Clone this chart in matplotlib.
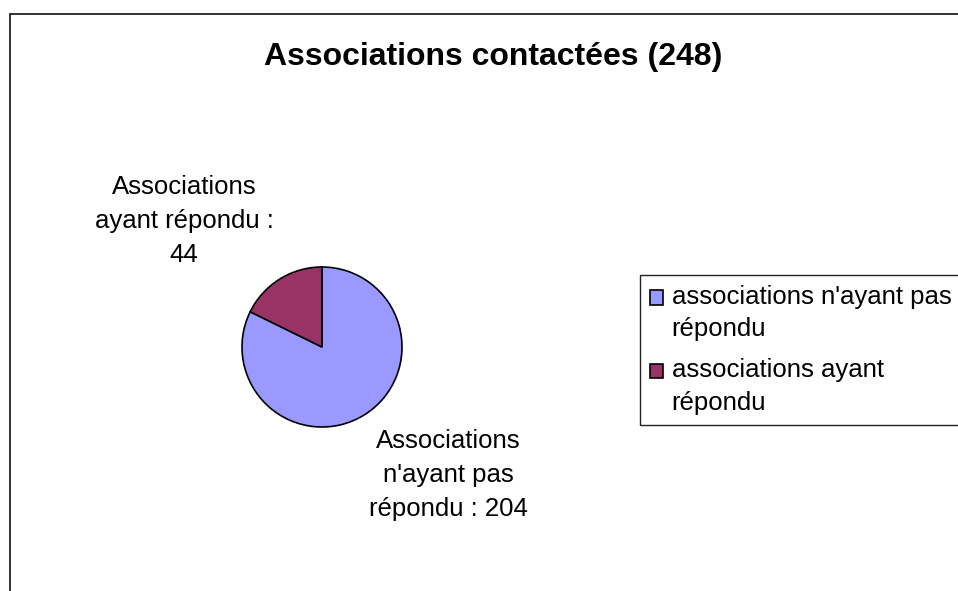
import matplotlib
matplotlib.use('Agg')
import matplotlib.pyplot as plt
from matplotlib.patches import Rectangle
from matplotlib.legend_handler import HandlerPatch

plt.rcParams['font.family'] = ['Liberation Sans', 'DejaVu Sans']

# data
title = 'Associations contactées (248)'
categories = ["associations n'ayant pas\nrépondu", 'associations ayant\nrépondu']
values = [204, 44]
slice_labels = ["Associations\nn'ayant pas\nrépondu : 204", 'Associations\nayant répondu :\n44']
colors = ['#9999FF', '#993366']

W, H = 958, 591
fig = plt.figure(figsize=(W / 100, H / 100), dpi=100)

# chart area border (only left and top edges visible)
fig.patches.append(Rectangle((10 / W, -0.2), 1.5, (H - 14) / H + 0.2,
                             transform=fig.transFigure, fill=False,
                             edgecolor='#222222', linewidth=1.3))

fig.text(493 / W, 1 - 57 / H, title, ha='center', va='center',
         fontsize=23, fontweight='bold')

# pie: centre (322, 347), radius 80 px
cx, cy, r = 322, 347, 80
ax = fig.add_axes([(cx - r) / W, (H - cy - r) / H, 2 * r / W, 2 * r / H])
wedges, _ = ax.pie(values, colors=colors, startangle=90, counterclock=False,
                   wedgeprops=dict(edgecolor='black', linewidth=1.2))
ax.set_xlim(-1, 1)
ax.set_ylim(-1, 1)
ax.set_aspect('equal')
ax.axis('off')

label_pos = [(126 / r, -128 / r), (-138 / r, 126 / r)]
for lab, (x, y) in zip(slice_labels, label_pos):
    ax.text(x, y, lab, ha='center', va='center', fontsize=18.5,
            linespacing=1.52, clip_on=False)


# legend squares sit next to the first line of each label
class TopHandler(HandlerPatch):
    def create_artists(self, legend, orig_handle, xdescent, ydescent,
                       width, height, fontsize, trans):
        arts = super().create_artists(legend, orig_handle, xdescent, ydescent,
                                      width, height, fontsize, trans)
        for a in arts:
            a.set_y(a.get_y() + 11.5)
        return arts


leg = fig.legend(wedges, categories, loc='upper left',
                 bbox_to_anchor=(640 / W, 1 - 275 / H), fontsize=18.5,
                 frameon=True, fancybox=False, framealpha=1,
                 edgecolor='#222222', borderaxespad=0, borderpad=0.38,
                 handlelength=0.5, handleheight=0.5, handletextpad=0.35,
                 labelspacing=0.66,
                 handler_map={w: TopHandler() for w in wedges})
leg.get_frame().set_linewidth(1.0)
for t in leg.get_texts():
    t.set_linespacing(1.45)

fig.savefig('out.png', dpi=100)
